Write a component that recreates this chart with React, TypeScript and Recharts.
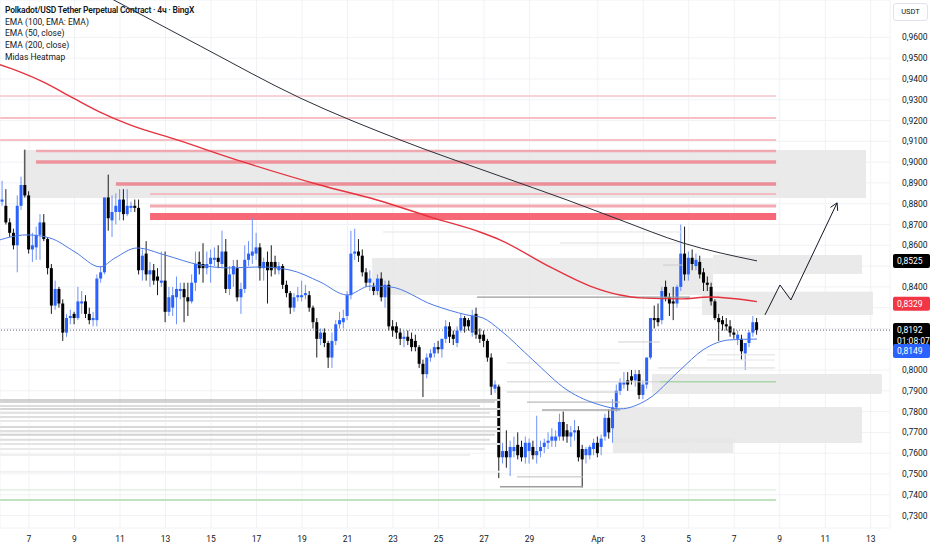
import React from 'react';
import {
  ComposedChart, Bar, Line, XAxis, YAxis, CartesianGrid, ReferenceLine, ReferenceArea,
} from 'recharts';

// 4h candles, [open, high, low, close]; first candle Mar 5 20:00, last Apr 8 00:00
const ohlc: number[][] = [
  [0.881, 0.891, 0.879, 0.882], [0.879, 0.887, 0.870, 0.871], [0.871, 0.873, 0.864, 0.866], [0.866, 0.868, 0.858, 0.860],
  [0.860, 0.884, 0.847, 0.879], [0.879, 0.893, 0.877, 0.889], [0.889, 0.906, 0.883, 0.884], [0.884, 0.886, 0.856, 0.858],
  [0.858, 0.866, 0.852, 0.860], [0.859, 0.869, 0.853, 0.865], [0.865, 0.875, 0.853, 0.871], [0.871, 0.875, 0.862, 0.863],
  [0.863, 0.864, 0.846, 0.849], [0.849, 0.851, 0.827, 0.831], [0.831, 0.843, 0.829, 0.839], [0.839, 0.840, 0.830, 0.832],
  [0.832, 0.834, 0.814, 0.818], [0.818, 0.827, 0.816, 0.825], [0.825, 0.829, 0.822, 0.826], [0.827, 0.828, 0.822, 0.825],
  [0.825, 0.840, 0.824, 0.833], [0.832, 0.838, 0.827, 0.833], [0.833, 0.836, 0.825, 0.827], [0.827, 0.830, 0.822, 0.824],
  [0.824, 0.828, 0.821, 0.825], [0.824, 0.846, 0.821, 0.844], [0.844, 0.850, 0.842, 0.847], [0.847, 0.883, 0.846, 0.883],
  [0.883, 0.894, 0.867, 0.873], [0.872, 0.884, 0.864, 0.876], [0.876, 0.885, 0.870, 0.879], [0.876, 0.887, 0.872, 0.882],
  [0.882, 0.887, 0.872, 0.875], [0.875, 0.887, 0.874, 0.879], [0.878, 0.881, 0.876, 0.879], [0.879, 0.882, 0.876, 0.878],
  [0.878, 0.882, 0.846, 0.848], [0.848, 0.858, 0.843, 0.855], [0.856, 0.862, 0.843, 0.846], [0.846, 0.852, 0.840, 0.848],
  [0.848, 0.851, 0.841, 0.843], [0.845, 0.849, 0.836, 0.843], [0.842, 0.857, 0.840, 0.843], [0.843, 0.857, 0.823, 0.828],
  [0.828, 0.840, 0.826, 0.835], [0.830, 0.840, 0.826, 0.836], [0.835, 0.845, 0.822, 0.839], [0.838, 0.842, 0.834, 0.839],
  [0.839, 0.842, 0.823, 0.835], [0.835, 0.842, 0.826, 0.833], [0.833, 0.846, 0.832, 0.842], [0.842, 0.857, 0.838, 0.851],
  [0.852, 0.857, 0.846, 0.849], [0.851, 0.861, 0.842, 0.849], [0.849, 0.857, 0.846, 0.851], [0.851, 0.858, 0.842, 0.854],
  [0.853, 0.859, 0.850, 0.854], [0.854, 0.860, 0.849, 0.852], [0.851, 0.867, 0.849, 0.857], [0.857, 0.863, 0.837, 0.839],
  [0.839, 0.850, 0.836, 0.846], [0.846, 0.853, 0.840, 0.850], [0.849, 0.853, 0.833, 0.835], [0.835, 0.842, 0.827, 0.839],
  [0.839, 0.860, 0.837, 0.853], [0.853, 0.862, 0.850, 0.856], [0.855, 0.873, 0.851, 0.857], [0.856, 0.866, 0.853, 0.859],
  [0.859, 0.861, 0.843, 0.849], [0.849, 0.854, 0.843, 0.852], [0.852, 0.857, 0.832, 0.848], [0.852, 0.860, 0.845, 0.848],
  [0.852, 0.855, 0.846, 0.849], [0.848, 0.852, 0.846, 0.850], [0.850, 0.851, 0.839, 0.841], [0.841, 0.843, 0.835, 0.837],
  [0.837, 0.838, 0.827, 0.830], [0.830, 0.837, 0.828, 0.835], [0.835, 0.840, 0.833, 0.836], [0.835, 0.843, 0.833, 0.836],
  [0.836, 0.841, 0.834, 0.837], [0.836, 0.838, 0.828, 0.830], [0.830, 0.831, 0.820, 0.823], [0.823, 0.825, 0.806, 0.815],
  [0.815, 0.820, 0.812, 0.818], [0.818, 0.820, 0.811, 0.813], [0.813, 0.814, 0.801, 0.806], [0.806, 0.818, 0.801, 0.814],
  [0.814, 0.824, 0.812, 0.822], [0.822, 0.828, 0.820, 0.824], [0.823, 0.829, 0.820, 0.825], [0.826, 0.838, 0.824, 0.836],
  [0.836, 0.867, 0.834, 0.856], [0.856, 0.868, 0.853, 0.857], [0.857, 0.863, 0.852, 0.855], [0.855, 0.858, 0.845, 0.847],
  [0.847, 0.849, 0.840, 0.842], [0.842, 0.848, 0.838, 0.844], [0.840, 0.842, 0.836, 0.838], [0.838, 0.846, 0.836, 0.844],
  [0.844, 0.847, 0.833, 0.835], [0.835, 0.843, 0.830, 0.841], [0.841, 0.843, 0.819, 0.821], [0.821, 0.824, 0.816, 0.819],
  [0.821, 0.823, 0.815, 0.818], [0.818, 0.820, 0.812, 0.815], [0.815, 0.819, 0.811, 0.816], [0.816, 0.819, 0.812, 0.814],
  [0.815, 0.818, 0.809, 0.811], [0.814, 0.817, 0.809, 0.811], [0.811, 0.812, 0.801, 0.803], [0.803, 0.805, 0.787, 0.798],
  [0.798, 0.808, 0.796, 0.806], [0.806, 0.810, 0.804, 0.808], [0.808, 0.813, 0.806, 0.811], [0.811, 0.814, 0.808, 0.810],
  [0.810, 0.815, 0.806, 0.815], [0.815, 0.824, 0.813, 0.821], [0.821, 0.823, 0.813, 0.816], [0.817, 0.819, 0.812, 0.815],
  [0.813, 0.821, 0.811, 0.819], [0.819, 0.827, 0.818, 0.825], [0.825, 0.826, 0.818, 0.821], [0.824, 0.825, 0.819, 0.821],
  [0.818, 0.829, 0.816, 0.826], [0.827, 0.830, 0.815, 0.817], [0.817, 0.820, 0.813, 0.815], [0.817, 0.819, 0.811, 0.814],
  [0.814, 0.815, 0.804, 0.806], [0.806, 0.808, 0.788, 0.792], [0.791, 0.795, 0.789, 0.793], [0.792, 0.793, 0.748, 0.758],
  [0.758, 0.765, 0.755, 0.761], [0.761, 0.771, 0.753, 0.758], [0.758, 0.766, 0.749, 0.763], [0.761, 0.768, 0.758, 0.763],
  [0.764, 0.770, 0.757, 0.759], [0.763, 0.766, 0.756, 0.758], [0.758, 0.768, 0.755, 0.765], [0.761, 0.767, 0.755, 0.765],
  [0.763, 0.766, 0.757, 0.759], [0.759, 0.778, 0.755, 0.761], [0.761, 0.766, 0.758, 0.763], [0.763, 0.767, 0.760, 0.765],
  [0.765, 0.770, 0.762, 0.766], [0.766, 0.772, 0.763, 0.768], [0.766, 0.771, 0.763, 0.768], [0.768, 0.779, 0.766, 0.775],
  [0.775, 0.780, 0.766, 0.768], [0.771, 0.774, 0.765, 0.768], [0.768, 0.773, 0.763, 0.770], [0.770, 0.776, 0.766, 0.771],
  [0.771, 0.773, 0.756, 0.758], [0.762, 0.764, 0.7435, 0.757], [0.759, 0.763, 0.755, 0.762], [0.759, 0.764, 0.757, 0.763],
  [0.762, 0.767, 0.759, 0.765], [0.765, 0.768, 0.758, 0.760], [0.763, 0.769, 0.759, 0.767], [0.768, 0.779, 0.766, 0.777],
  [0.777, 0.781, 0.767, 0.770], [0.772, 0.786, 0.765, 0.782], [0.782, 0.793, 0.780, 0.790], [0.790, 0.796, 0.788, 0.794],
  [0.793, 0.799, 0.791, 0.794], [0.795, 0.799, 0.790, 0.793], [0.797, 0.800, 0.793, 0.795], [0.795, 0.800, 0.792, 0.798],
  [0.798, 0.800, 0.786, 0.788], [0.788, 0.795, 0.786, 0.793], [0.793, 0.806, 0.791, 0.806], [0.806, 0.825, 0.805, 0.825],
  [0.825, 0.831, 0.820, 0.824], [0.825, 0.832, 0.821, 0.823], [0.824, 0.840, 0.822, 0.838], [0.840, 0.843, 0.833, 0.835],
  [0.835, 0.837, 0.826, 0.832], [0.833, 0.840, 0.824, 0.832], [0.832, 0.841, 0.830, 0.840], [0.840, 0.870, 0.838, 0.856],
  [0.856, 0.869, 0.843, 0.846], [0.846, 0.857, 0.843, 0.854], [0.854, 0.858, 0.848, 0.851], [0.850, 0.856, 0.848, 0.853],
  [0.852, 0.855, 0.844, 0.846], [0.847, 0.849, 0.838, 0.842], [0.842, 0.845, 0.838, 0.841], [0.840, 0.842, 0.831, 0.833],
  [0.833, 0.834, 0.824, 0.825], [0.825, 0.827, 0.814, 0.823], [0.824, 0.826, 0.819, 0.822], [0.822, 0.825, 0.819, 0.821],
  [0.821, 0.824, 0.816, 0.818], [0.818, 0.820, 0.815, 0.817], [0.815, 0.819, 0.812, 0.817], [0.815, 0.817, 0.805, 0.809],
  [0.808, 0.812, 0.800, 0.813], [0.813, 0.819, 0.811, 0.818], [0.818, 0.826, 0.816, 0.823], [0.823, 0.825, 0.817, 0.8192],
];
const firstCandleDay = -7 / 6; // days after Mar 7 00:00

// EMA readings as [day, price]
const ema100: number[][] = [
  [3.56, 0.979], [4.31, 0.9746], [7.52, 0.9559], [11.91, 0.9309], [16.31, 0.9107], [20.7, 0.8933],
  [23.65, 0.8818], [25.98, 0.8722], [28.75, 0.8611], [32.0, 0.8525],
];
const ema200: number[][] = [
  [-1.6, 0.948], [-0.4, 0.9434], [0.62, 0.9386], [1.93, 0.9309], [3.12, 0.9241], [4.44, 0.9179],
  [6.51, 0.9107], [9.41, 0.9001], [12.79, 0.889], [15.3, 0.8818], [17.76, 0.8732], [19.82, 0.8664],
  [20.7, 0.8626], [22.9, 0.8496], [24.66, 0.8404], [25.98, 0.8361], [26.86, 0.8347], [28.62, 0.8342],
  [29.93, 0.8351], [32.0, 0.8329],
];
const ema50: number[][] = [
  [-1.6, 0.8615], [-0.09, 0.865], [0.92, 0.8635], [2.02, 0.8568], [3.12, 0.8496], [3.78, 0.8539],
  [4.75, 0.8587], [5.98, 0.8553], [7.52, 0.8505], [8.84, 0.8491], [10.15, 0.8496], [11.47, 0.8481],
  [12.79, 0.8424], [13.98, 0.8361], [14.99, 0.8404], [15.87, 0.84], [17.76, 0.8313], [19.25, 0.8265],
  [19.96, 0.825], [20.7, 0.8193], [22.15, 0.8048], [23.65, 0.7904], [25.1, 0.7832], [25.98, 0.7813],
  [27.16, 0.7856], [28.62, 0.8], [29.63, 0.8097], [30.81, 0.8145], [32.0, 0.8149],
];
const forecastPath: number[][] = [[32.35, 0.8265], [33.01, 0.8409], [33.49, 0.8337], [35.52, 0.8804]];

// Midas heatmap: red levels [price, fromDay, toDay, width, colour]
const redLevels: (number | string)[][] = [
  [0.9318, -1.27, 32.84, 2, '#f9d3d7'], [0.9212, -1.27, 32.84, 2, '#f6c0c5'], [0.9107, -1.27, 32.84, 2, '#f6c0c5'],
  [0.9054, 0.31, 32.84, 2.5, '#f0a9b0'], [0.9001, 0.31, 32.84, 3.5, '#ec939c'], [0.8895, 3.82, 32.84, 3.5, '#ea8e97'],
  [0.8847, 5.32, 32.84, 2, '#f3bcc2'], [0.8789, 5.32, 32.84, 3, '#f3a9b0'],
];
const redBand = { from: 5.32, to: 32.84, top: 0.8755, bottom: 0.8722 };
// grey zones [fromDay, toDay, top, bottom]
const greyZones: number[][] = [
  [-0.26, 36.79, 0.9058, 0.8828], [15.08, 30.07, 0.8539, 0.8361], [30.07, 36.62, 0.8553, 0.8462],
  [29.58, 37.1, 0.8376, 0.8265], [27.38, 37.49, 0.7981, 0.7885], [25.67, 36.62, 0.7822, 0.7649],
  [25.67, 30.95, 0.7673, 0.7601],
];
// grey liquidity lines [price, fromDay, toDay, width, colour]
const greyLevels: (number | string)[][] = [
  [0.7856, -1.27, 20.7, 2, '#d0d0d0'], [0.7846, -1.27, 20.48, 1.5, '#c6c6c6'], [0.7827, -1.27, 19.82, 2, '#dcdcdc'],
  [0.7813, -1.27, 20.7, 2, '#d6d6d6'], [0.7793, -1.27, 20.26, 2, '#e3e3e3'], [0.7774, -1.27, 20.7, 2, '#dedede'],
  [0.7755, -1.27, 19.82, 2, '#e8e8e8'], [0.7726, -1.27, 20.7, 2, '#d8d8d8'], [0.7707, -1.27, 20.7, 2, '#e0e0e0'],
  [0.7688, -1.27, 20.48, 2, '#d2d2d2'], [0.7664, -1.27, 20.26, 2, '#dddddd'], [0.7644, -1.27, 20.7, 2, '#e5e5e5'],
  [0.762, -1.27, 20.04, 2, '#e9e9e9'], [0.7591, -1.27, 19.38, 2, '#efefef'], [0.751, -1.27, 20.7, 2, '#f1f1f1'],
  [0.8664, 15.56, 28.75, 1, '#e4e4e4'], [0.8611, 23.34, 28.75, 1, '#dedede'], [0.8505, 27.87, 28.75, 1, '#cccccc'],
  [0.8351, 19.69, 29.05, 1.2, '#9a9a9a'], [0.8135, 25.89, 27.74, 1, '#d0d0d0'], [0.8073, 29.8, 32.79, 1, '#e0e0e0'],
  [0.8048, 29.8, 32.79, 1, '#e6e6e6'], [0.8034, 21.01, 25.98, 1, '#e0e0e0'], [0.801, 27.65, 32.79, 1, '#d8d8d8'],
  [0.7943, 21.01, 27.74, 1, '#cfcfcf'], [0.7894, 21.01, 25.98, 1, '#c8c8c8'], [0.7846, 21.89, 25.98, 1.2, '#bbbbbb'],
  [0.7808, 22.55, 25.98, 1.5, '#a8a8a8'], [0.7486, 21.45, 24.35, 1, '#bdbdbd'], [0.7438, 20.7, 24.35, 1.5, '#9e9e9e'],
];
const greenLevels: (number | string)[][] = [
  [0.7423, -1.27, 32.84, 1, '#d3ead3'], [0.7375, -1.27, 32.84, 2, '#bfe3bf'], [0.7943, 27.74, 32.84, 1.5, '#a9d6a9'],
];

const xTicks = [0, 2, 4, 6, 8, 10, 12, 14, 16, 18, 20, 22, 25, 27, 29, 31, 33, 35, 37];
const xTickLabels = ['7', '9', '11', '13', '15', '17', '19', '21', '23', '25', '27', '29', 'Apr', '3', '5', '7', '9', '11', '13'];
const yTicks = [0.96, 0.95, 0.94, 0.93, 0.92, 0.91, 0.9, 0.89, 0.88, 0.87, 0.86, 0.85, 0.84, 0.83, 0.82, 0.81, 0.8, 0.79, 0.78, 0.77, 0.76, 0.75, 0.74, 0.73];
const coveredTicks = [0.85, 0.83, 0.82, 0.81];

const lastPrice = 0.8192;
const priceTags = [
  { value: 0.8525, text: ['0,8525'], bg: '#000000', dy: 0 },
  { value: 0.8329, text: ['0,8329'], bg: '#f23645', dy: 2 },
  { value: 0.8192, text: ['0,8192', '01:08:07'], bg: '#000000', dy: 0 },
  { value: 0.8149, text: ['0,8149'], bg: '#2962ff', dy: 12 },
];
const legendLines = ['Polkadot/USD Tether Perpetual Contract · 4ч · BingX', 'EMA (100, EMA: EMA)', 'EMA (50, close)', 'EMA (200, close)', 'Midas Heatmap'];

const xDomain = [-1.275, 37.846];
const candles = ohlc.map(([o, h, l, c], i) => ({ t: firstCandleDay + i / 6, o, h, l, c, range: [l, h] }));
const toPts = (arr: number[][]) => arr.map(([t, v]) => ({ t, v }));

const fmt = (v: number) => v.toFixed(4).replace('.', ',');

const Candle = (props: any) => {
  const { x, y, width, height, payload } = props;
  if (x == null || payload == null) return <g />;
  const top = Math.min(y, y + height);
  const hgt = Math.abs(height);
  const { o, h, l, c } = payload;
  const span = h - l || 1e-9;
  const py = (v: number) => top + ((h - v) / span) * hgt;
  const up = c >= o;
  const bTop = py(Math.max(o, c));
  const bBot = py(Math.min(o, c));
  const cx = x + width / 2;
  return (
    <g>
      <line x1={cx} x2={cx} y1={top} y2={top + hgt} stroke={up ? '#6f93f6' : '#1a1a1a'} strokeWidth={1} />
      <rect x={x} y={bTop} width={width} height={Math.max(bBot - bTop, 1)} fill={up ? '#2962ff' : '#000000'} />
    </g>
  );
};

const PriceTick = (props: any) => {
  const { x, y, payload } = props;
  if (coveredTicks.some((v) => Math.abs(v - payload.value) < 1e-6)) return <g />;
  return (
    <text x={x} y={y} dy={3} fontSize={8.5} fill="#131722" textAnchor="start">{fmt(payload.value)}</text>
  );
};

const tagLabel = (tag: { text: string[]; bg: string; dy: number }) => (p: any) => {
  const vb = p.viewBox || {};
  const left = (vb.x ?? 0) + (vb.width ?? 0) + 3;
  const h = tag.text.length * 11 + 3;
  const top = (vb.y ?? 0) - 7 + tag.dy;
  return (
    <g>
      <rect x={left} y={top} width={37} height={h} rx={2} fill={tag.bg} />
      {tag.text.map((s, k) => (
        <text key={k} x={left + 4} y={top + 10 + k * 11} fontSize={8.5} fill="#ffffff">{s}</text>
      ))}
    </g>
  );
};

const ArrowHead = (p: any) => {
  const { cx, cy, index } = p;
  if (index !== forecastPath.length - 1) return <g key={`a${index}`} />;
  return (
    <path key={`a${index}`} d={`M${cx - 6.6},${cy + 4.5} L${cx},${cy} L${cx + 0.6},${cy + 8}`} fill="none" stroke="#131722" strokeWidth={1} />
  );
};

export default function App() {
  return (
    <div style={{ position: 'absolute', left: 0, top: 0, width: 932, height: 550, background: '#ffffff', fontFamily: 'Roboto, sans-serif', overflow: 'hidden' }}>
      <ComposedChart width={932} height={550} data={candles} margin={{ top: 0, right: 0, bottom: 0, left: 0 }}>
        <CartesianGrid stroke="#f0f2f5" />
        <XAxis
          dataKey="t" type="number" domain={xDomain} allowDataOverflow ticks={xTicks} interval={0}
          tickFormatter={(v: number) => xTickLabels[xTicks.indexOf(v)] ?? ''} height={22}
          axisLine={false} tickLine={false} tick={{ fontSize: 8.5, fill: '#131722' }} tickMargin={2}
        />
        <XAxis xAxisId="candle" dataKey="t" type="number" domain={xDomain} allowDataOverflow hide height={0} />
        <YAxis
          orientation="right" domain={[0.724, 0.978]} allowDataOverflow ticks={yTicks} interval={0} width={42}
          axisLine={false} tickLine={false} tick={<PriceTick />} tickMargin={6}
        />
        {greyZones.map(([x1, x2, y1, y2], k) => (
          <ReferenceArea key={`z${k}`} x1={x1} x2={x2} y1={y1} y2={y2} fill="#e6e6e6" fillOpacity={0.85} stroke="none" ifOverflow="hidden" />
        ))}
        {[...greyLevels, ...greenLevels, ...redLevels].map(([p, a, b, w, col], k) => (
          <ReferenceLine key={`l${k}`} segment={[{ x: a as number, y: p as number }, { x: b as number, y: p as number }]} stroke={col as string} strokeWidth={w as number} ifOverflow="hidden" />
        ))}
        <ReferenceArea x1={redBand.from} x2={redBand.to} y1={redBand.top} y2={redBand.bottom} fill="#f7616f" fillOpacity={0.95} stroke="none" ifOverflow="hidden" />
        <Line data={toPts(ema100)} dataKey="v" type="monotone" stroke="#2a2e39" strokeWidth={1} dot={false} activeDot={false} isAnimationActive={false} />
        <Line data={toPts(ema200)} dataKey="v" type="monotone" stroke="#e5323f" strokeWidth={1.4} dot={false} activeDot={false} isAnimationActive={false} />
        <Line data={toPts(ema50)} dataKey="v" type="monotone" stroke="#4b79e6" strokeWidth={1} dot={false} activeDot={false} isAnimationActive={false} />
        <Bar xAxisId="candle" dataKey="range" barSize={3} shape={<Candle />} isAnimationActive={false} />
        <ReferenceLine y={lastPrice} stroke="#5d606b" strokeDasharray="1 2" strokeWidth={1} />
        <Line data={toPts(forecastPath)} dataKey="v" type="linear" stroke="#131722" strokeWidth={1} dot={ArrowHead} activeDot={false} isAnimationActive={false} />
        {priceTags.map((tag, k) => (
          <ReferenceLine key={`t${k}`} y={tag.value} stroke="none" label={tagLabel(tag)} />
        ))}
      </ComposedChart>
      <div style={{ position: 'absolute', left: 5, top: 5, fontSize: 8.5, lineHeight: '11.7px', color: '#131722' }}>
        {legendLines.map((s, k) => (
          <div key={k} style={{ fontWeight: k === 0 ? 600 : 400, letterSpacing: k === 0 ? -0.2 : 0 }}>{s}</div>
        ))}
      </div>
      <div style={{ position: 'absolute', left: 893, top: 3, width: 33, height: 16, border: '1px solid #e0e3eb', borderRadius: 3, fontSize: 7.5, color: '#131722', textAlign: 'center', lineHeight: '16px' }}>USDT</div>
    </div>
  );
}
